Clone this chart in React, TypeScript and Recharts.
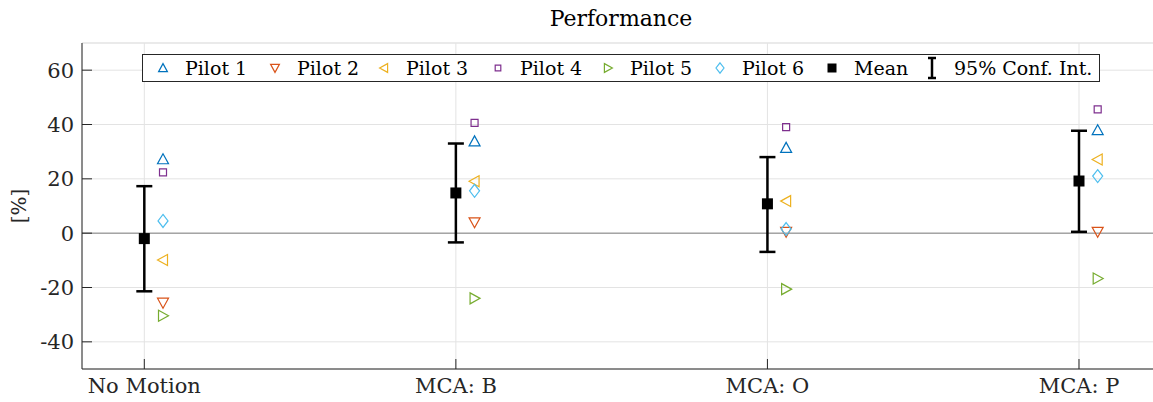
import React from 'react';
import { ComposedChart, Scatter, XAxis, YAxis, CartesianGrid, ReferenceLine, ErrorBar } from 'recharts';

const categories = ['No Motion', 'MCA: B', 'MCA: O', 'MCA: P'];
const yTicks = [-40, -20, 0, 20, 40, 60];

const pilot1 = [27.2, 33.8, 31.4, 37.9];
const pilot2 = [-25.6, 4.0, 0.5, 0.5];
const pilot3 = [-9.9, 19.1, 11.8, 27.1];
const pilot4 = [22.4, 40.6, 39.0, 45.6];
const pilot5 = [-30.4, -24.0, -20.6, -16.7];
const pilot6 = [4.5, 15.6, 1.5, 21.0];
const meanValues = [-2.0, 14.8, 10.8, 19.2];
const ciLow = [-21.4, -3.4, -6.9, 0.5];
const ciHigh = [17.3, 33.0, 28.0, 37.7];

const FONT = "'DejaVu Serif', 'Liberation Serif', serif";
const AXIS = '#262626';
const GRID = '#e3e3e3';
const PILOT_OFFSET = 0.06;

const pilots = [
  { name: 'Pilot 1', values: pilot1, color: '#0072BD', kind: 'up' },
  { name: 'Pilot 2', values: pilot2, color: '#D95319', kind: 'down' },
  { name: 'Pilot 3', values: pilot3, color: '#EDB120', kind: 'left' },
  { name: 'Pilot 4', values: pilot4, color: '#7E2F8E', kind: 'square' },
  { name: 'Pilot 5', values: pilot5, color: '#77AC30', kind: 'right' },
  { name: 'Pilot 6', values: pilot6, color: '#4DBEEE', kind: 'diamond' },
];

const meanData = meanValues.map((m, i) => ({
  x: i + 1,
  y: m,
  err: [m - ciLow[i], ciHigh[i] - m],
}));

function markerPath(kind: string, cx: number, cy: number, s: number) {
  const a = 5.5 * s;
  const b = 4.5 * s;
  switch (kind) {
    case 'up':
      return `M${cx},${cy - a} L${cx + a},${cy + b} L${cx - a},${cy + b} Z`;
    case 'down':
      return `M${cx},${cy + a} L${cx + a},${cy - b} L${cx - a},${cy - b} Z`;
    case 'left':
      return `M${cx - a},${cy} L${cx + b},${cy - a} L${cx + b},${cy + a} Z`;
    case 'right':
      return `M${cx + a},${cy} L${cx - b},${cy - a} L${cx - b},${cy + a} Z`;
    case 'square': {
      const h = 3.5 * s;
      return `M${cx - h},${cy - h} L${cx + h},${cy - h} L${cx + h},${cy + h} L${cx - h},${cy + h} Z`;
    }
    default: {
      const w = 5 * s;
      const t = 6.5 * s;
      return `M${cx},${cy - t} L${cx + w},${cy} L${cx},${cy + t} L${cx - w},${cy} Z`;
    }
  }
}

const makeShape = (kind: string, color: string) => (props: any) => (
  <path d={markerPath(kind, props.cx, props.cy, 1)} fill="none" stroke={color} strokeWidth={1.2} />
);

const MeanShape = (props: any) => (
  <rect x={props.cx - 5.5} y={props.cy - 5.5} width={11} height={11} fill="#000" />
);

const YTick = (props: any) => {
  const { x, y, payload } = props;
  return (
    <g>
      <line x1={x + 8} x2={x + 18} y1={y} y2={y} stroke={AXIS} strokeWidth={1} />
      <text x={x} y={y} dy="0.36em" textAnchor="end" style={{ fontFamily: FONT, fontSize: 21 }} fill="#262626">
        {String(payload.value)}
      </text>
    </g>
  );
};

const XTick = (props: any) => {
  const { x, y, payload } = props;
  return (
    <g>
      <line x1={x} x2={x} y1={y - 6} y2={y - 16} stroke={AXIS} strokeWidth={1} />
      <text x={x} y={y + 18} textAnchor="middle" style={{ fontFamily: FONT, fontSize: 21 }} fill="#262626">
        {categories[payload.value - 1]}
      </text>
    </g>
  );
};

const legendItems = [
  ...pilots.map((p) => ({ name: p.name, kind: p.kind, color: p.color })),
  { name: 'Mean', kind: 'mean', color: '#000' },
  { name: '95% Conf. Int.', kind: 'ci', color: '#000' },
];
const legendWidths = [112, 109, 114, 110, 112, 112, 100, 160];

const LegendIcon = ({ kind, color }: { kind: string; color: string }) => (
  <svg width={20} height={24} style={{ display: 'block', flexShrink: 0 }}>
    {kind === 'mean' ? (
      <rect x={5.5} y={7.5} width={9} height={9} fill="#000" />
    ) : kind === 'ci' ? (
      <g stroke="#000" strokeWidth={2.5}>
        <line x1={10} x2={10} y1={2} y2={22} />
        <line x1={6} x2={14} y1={2} y2={2} />
        <line x1={6} x2={14} y1={22} y2={22} />
      </g>
    ) : (
      <path d={markerPath(kind, 10, 12, 0.8)} fill="none" stroke={color} strokeWidth={1.2} />
    )}
  </svg>
);

export default function App() {
  return (
    <div style={{ position: 'fixed', left: 0, top: 0, width: 1153, height: 402, overflow: 'hidden', background: '#fff' }}>
      <ComposedChart width={1165} height={402} margin={{ top: 43, right: 5, bottom: 0, left: 0 }}>
        <CartesianGrid stroke={GRID} />
        <XAxis
          type="number"
          dataKey="x"
          domain={[0.8, 4.26]}
          ticks={[1, 2, 3, 4]}
          height={33}
          tickSize={0}
          tickMargin={6}
          tickLine={false}
          stroke={AXIS}
          tick={<XTick />}
          allowDataOverflow
        />
        <YAxis
          type="number"
          dataKey="y"
          domain={[-50, 70]}
          ticks={yTicks}
          width={82}
          tickSize={0}
          tickMargin={8}
          tickLine={false}
          stroke={AXIS}
          tick={<YTick />}
          allowDataOverflow
        />
        <ReferenceLine y={70} stroke={GRID} />
        <ReferenceLine y={0} stroke="#808080" strokeWidth={1} />
        {pilots.map((p) => (
          <Scatter
            key={p.name}
            name={p.name}
            data={p.values.map((v, i) => ({ x: i + 1 + PILOT_OFFSET, y: v }))}
            shape={makeShape(p.kind, p.color)}
            isAnimationActive={false}
          />
        ))}
        <Scatter name="Mean" data={meanData} shape={MeanShape} isAnimationActive={false}>
          <ErrorBar dataKey="err" direction="y" width={8} strokeWidth={2.5} stroke="#000" />
        </Scatter>
      </ComposedChart>

      <div
        style={{
          position: 'absolute',
          left: 0,
          top: 6,
          width: 1242,
          textAlign: 'center',
          fontFamily: FONT,
          fontSize: 22,
          color: '#000',
          lineHeight: '26px',
        }}
      >
        Performance
      </div>

      <div
        style={{
          position: 'absolute',
          left: 2,
          top: 206,
          transform: 'translate(0, -50%) rotate(-90deg)',
          transformOrigin: 'center',
          fontFamily: FONT,
          fontSize: 20,
          color: '#262626',
          lineHeight: '24px',
        }}
      >
        [%]
      </div>

      <div
        style={{
          position: 'absolute',
          left: 142,
          top: 54,
          width: 958,
          height: 28,
          boxSizing: 'border-box',
          border: '1px solid #262626',
          background: '#fff',
          display: 'flex',
          alignItems: 'center',
          paddingLeft: 10,
          fontFamily: FONT,
          fontSize: 19,
          color: '#000',
          whiteSpace: 'nowrap',
          overflow: 'hidden',
        }}
      >
        {legendItems.map((item, i) => (
          <div key={item.name} style={{ display: 'flex', alignItems: 'center', width: legendWidths[i], flex: 'none' }}>
            <LegendIcon kind={item.kind} color={item.color} />
            <span style={{ marginLeft: 12 }}>{item.name}</span>
          </div>
        ))}
      </div>
    </div>
  );
}
